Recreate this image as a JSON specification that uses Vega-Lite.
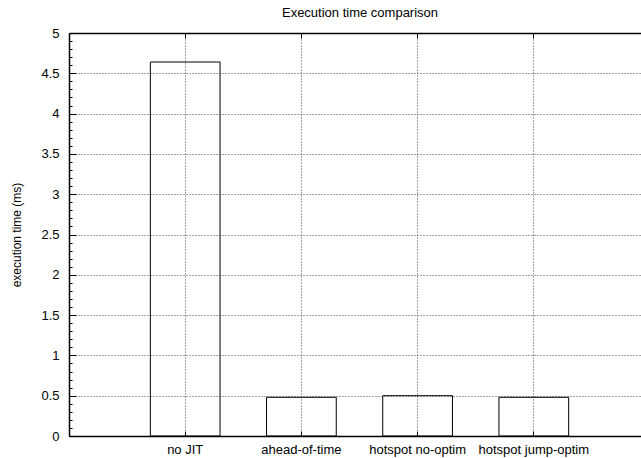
{
  "$schema": "https://vega.github.io/schema/vega-lite/v6.json",
  "width": 572,
  "height": 403,
  "autosize": "none",
  "padding": {"left": 69, "top": 33, "right": 0, "bottom": 22},
  "background": "white",
  "title": {
    "text": "Execution time comparison",
    "font": "Liberation Sans",
    "fontSize": 13,
    "fontWeight": "normal",
    "color": "black",
    "anchor": "middle",
    "dx": 5,
    "offset": 7
  },
  "config": {
    "view": {"stroke": null},
    "axis": {
      "labelFont": "Liberation Sans",
      "titleFont": "Liberation Sans",
      "labelColor": "black",
      "titleColor": "black",
      "domainColor": "black",
      "domainWidth": 1.5,
      "tickColor": "black",
      "gridColor": "#444444",
      "gridDash": [1, 2],
      "gridWidth": 1
    }
  },
  "data": {
    "values": [
      {"name": "no JIT", "time": 4.64},
      {"name": "ahead-of-time", "time": 0.48},
      {"name": "hotspot no-optim", "time": 0.5},
      {"name": "hotspot jump-optim", "time": 0.48}
    ]
  },
  "layer": [
    {
      "mark": {"type": "bar", "fill": "white", "fillOpacity": 0, "stroke": "black", "strokeWidth": 1},
      "encoding": {
        "x": {
          "field": "name",
          "type": "nominal",
          "sort": null,
          "scale": {"range": [0, 581], "paddingInner": 0.4, "paddingOuter": 0.7},
          "axis": {
            "orient": "bottom",
            "title": null,
            "bandPosition": 0.5,
            "grid": true,
            "tickSize": -5,
            "labelPadding": 12,
            "labelAngle": 0,
            "labelFontSize": 13
          }
        },
        "y": {
          "field": "time",
          "type": "quantitative",
          "scale": {"domain": [0, 5], "nice": false, "zero": true},
          "axis": {
            "title": "execution time (ms)",
            "titleFontSize": 12,
            "titleFontWeight": "normal",
            "titlePadding": 17,
            "values": [0, 0.1, 0.2, 0.3, 0.4, 0.5, 0.6, 0.7, 0.8, 0.9, 1, 1.1, 1.2, 1.3, 1.4, 1.5, 1.6, 1.7, 1.8, 1.9, 2, 2.1, 2.2, 2.3, 2.4, 2.5, 2.6, 2.7, 2.8, 2.9, 3, 3.1, 3.2, 3.3, 3.4, 3.5, 3.6, 3.7, 3.8, 3.9, 4, 4.1, 4.2, 4.3, 4.4, 4.5, 4.6, 4.7, 4.8, 4.9, 5],
            "format": "~g",
            "labelExpr": "round(datum.value*10) % 5 == 0 ? datum.label : ''",
            "labelFontSize": 13,
            "labelPadding": 17,
            "tickSize": {"condition": {"test": "round(datum.value*10) % 5 == 0", "value": -7}, "value": -3},
            "grid": true,
            "gridOpacity": {"condition": {"test": "round(datum.value*10) % 5 == 0", "value": 1}, "value": 0}
          }
        }
      }
    },
    {
      "mark": {"type": "tick", "opacity": 0},
      "encoding": {
        "x": {
          "field": "name",
          "type": "nominal",
          "sort": null,
          "axis": {
            "orient": "top",
            "title": null,
            "labels": false,
            "bandPosition": 0.5,
            "grid": false,
            "tickSize": -5
          }
        }
      }
    }
  ],
  "resolve": {"axis": {"x": "independent"}}
}
